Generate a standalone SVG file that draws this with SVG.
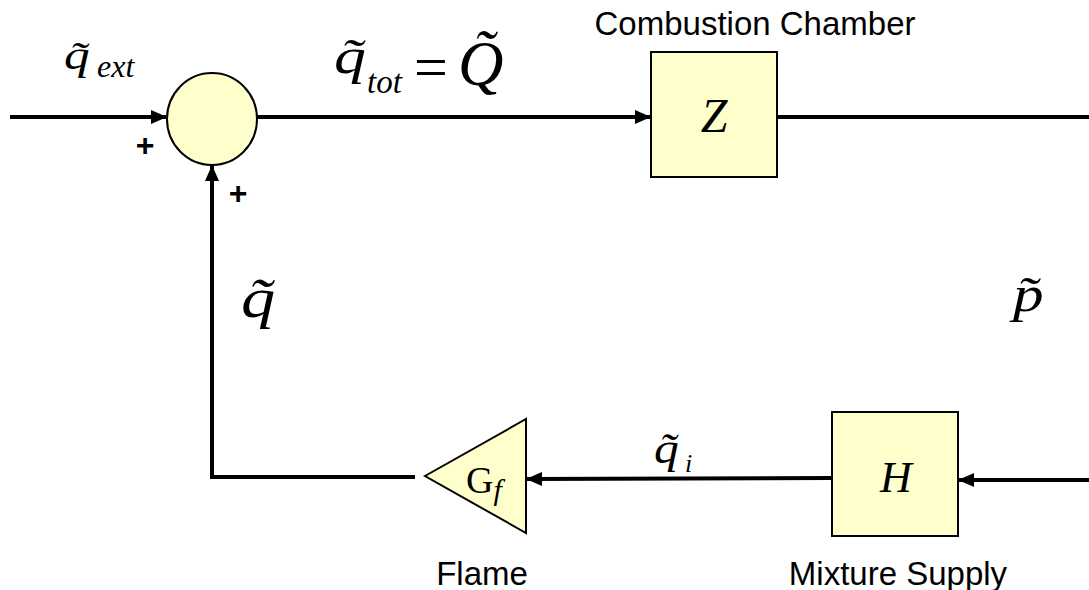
<svg xmlns="http://www.w3.org/2000/svg" width="1089" height="590" viewBox="0 0 1089 590">
<style>
.ln{stroke:#000;stroke-width:4;fill:none}
.blk{fill:#FFFFCC;stroke:#000;stroke-width:2}
.lbl{font-family:"Liberation Sans",Arial,sans-serif;font-size:33px;fill:#000}
.m{font-family:"Liberation Serif","Times New Roman",serif;font-style:italic;fill:#000}
.r{font-family:"Liberation Serif","Times New Roman",serif;fill:#000}
.pl{font-family:"Liberation Sans",Arial,sans-serif;font-size:32px;font-weight:bold;fill:#000}
</style>
<defs>
<marker id="ah" markerWidth="16" markerHeight="14" refX="15" refY="7" orient="auto" markerUnits="userSpaceOnUse">
<path d="M0,0 L16,7 L0,14 Z" fill="#000"/>
</marker>
</defs>
<rect width="1089" height="590" fill="#fff"/>
<g id="connectors">
<line class="ln" x1="10" y1="117" x2="166" y2="117" marker-end="url(#ah)"/>
<line class="ln" x1="257" y1="117" x2="650" y2="117" marker-end="url(#ah)"/>
<line class="ln" x1="777" y1="117" x2="1089" y2="117"/>
<line class="ln" x1="1089" y1="480" x2="959" y2="480" marker-end="url(#ah)"/>
<line class="ln" x1="832" y1="478" x2="527" y2="479" marker-end="url(#ah)"/>
<polyline class="ln" points="415,477 212,477 212,166" marker-end="url(#ah)"/>
</g>
<g id="sum">
<ellipse class="blk" cx="212" cy="119" rx="45" ry="46"/>
<text class="pl" x="145" y="156" text-anchor="middle">+</text>
<text class="pl" x="238" y="204" text-anchor="middle">+</text>
</g>
<g id="chamber">
<rect class="blk" x="651" y="52" width="126" height="125"/>
<text class="m" x="714" y="132" font-size="48" text-anchor="middle">Z</text>
<text class="lbl" x="755" y="35" text-anchor="middle">Combustion Chamber</text>
</g>
<g id="supply">
<rect class="blk" x="832" y="412" width="126" height="124"/>
<text class="m" x="896" y="492" font-size="44" text-anchor="middle">H</text>
<text class="lbl" x="898" y="585" text-anchor="middle">Mixture Supply</text>
</g>
<g id="flame">
<polygon class="blk" points="425,476 526,419 526,533"/>
<text class="r" font-size="38" x="466" y="493">G<tspan class="m" font-size="30" y="500">f</tspan></text>
<text class="lbl" x="482" y="585" text-anchor="middle">Flame</text>
</g>
<g id="labels">
<text class="m" font-size="41" transform="translate(64,69) scale(1.25,1)">q&#x303;</text>
<text class="m" font-size="32" x="97" y="77">ext</text>
<text class="m" font-size="51" transform="translate(334,73) scale(1.25,1)">q&#x303;</text>
<text class="m" font-size="33" x="367" y="93">tot</text>
<text class="r" font-size="60" x="414" y="87">=</text>
<text class="m" font-size="63" x="458" y="85">Q&#x303;</text>
<text class="m" font-size="57" transform="translate(241,317) scale(1.2,1)">q&#x303;</text>
<text class="m" font-size="51" transform="translate(1013,311) scale(1.2,1)">p&#x303;</text>
<text class="m" font-size="45" transform="translate(654,463) scale(1.1,1)">q&#x303;</text>
<text class="m" font-size="26" x="685" y="472">i</text>
</g>
</svg>
